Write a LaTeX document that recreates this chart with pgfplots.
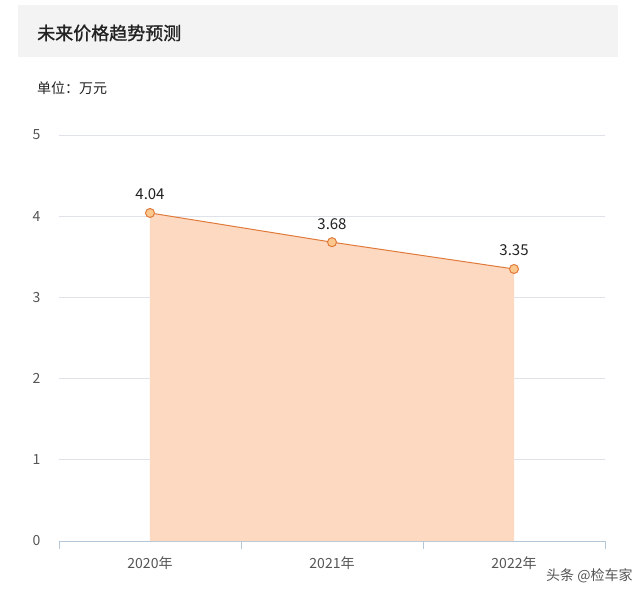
\documentclass[border=0pt]{standalone}
\usepackage{fontspec}
\setmainfont{Noto Sans CJK SC}
\newfontfamily\titlefont[FakeBold=1.2]{Noto Sans CJK SC}
\usepackage{pgfplots}
\pgfplotsset{compat=1.18}

\definecolor{titlebg}{HTML}{F3F3F4}
\definecolor{titletext}{HTML}{222222}
\definecolor{labeltext}{HTML}{555555}
\definecolor{gridgray}{HTML}{DFE2E8}
\definecolor{axisblue}{HTML}{B4C6D8}
\definecolor{peach}{HTML}{FDD9C1}
\definecolor{lineorange}{HTML}{E07A3A}
\definecolor{markfill}{HTML}{FCC88E}

\begin{document}
\begin{tikzpicture}[x=1pt,y=1pt]
  % axis origin sits at (0,0); page is (-59,-49) to (581,541)
  \fill[white] (-59,-49) rectangle (581,541);
  \fill[titlebg] (-41,484) rectangle (559,536);
  \node[anchor=west, inner sep=0pt, text=titletext,
        font=\titlefont\fontsize{18}{20}\selectfont] at (-22,508) {未来价格趋势预测};
  \node[anchor=west, inner sep=0pt, text=titletext,
        font=\fontsize{14}{16}\selectfont] at (-22,453) {单位：万元};

  \begin{axis}[
      scale only axis,
      width=546pt, height=406pt,
      xmin=-0.5, xmax=2.5,
      ymin=0, ymax=5,
      ytick={0,1,2,3,4,5},
      xtick={0,1,2},
      xticklabels={2020年,2021年,2022年},
      axis x line*=bottom,
      axis y line*=left,
      x axis line style={draw=axisblue, line width=0.8pt},
      y axis line style={draw=none},
      ytick style={draw=none},
      xtick style={draw=axisblue, line width=0.8pt},
      major tick length=0pt,
      ymajorgrids,
      major grid style={draw=gridgray, line width=0.8pt},
      extra x ticks={-0.5,0.5,1.5,2.5},
      extra x tick labels={},
      extra x tick style={
        tick align=outside,
        major tick length=8pt,
        grid=none,
      },
      /pgf/number format/assume math mode=true,
      tick label style={text=labeltext, font=\fontsize{14}{16}\selectfont},
      yticklabel style={xshift=-15pt},
      xticklabel style={yshift=-12pt},
      clip=false,
    ]
    % area under the line
    \addplot[fill=peach, draw=none] coordinates {
      (0, 4.04)
      (1, 3.68)
      (2, 3.35)
    } \closedcycle;
    % price line with point labels
    \addplot[
      draw=lineorange, line width=1pt,
      mark=*, mark size=4.5pt,
      mark options={fill=markfill, draw=lineorange, line width=1pt},
      nodes near coords,
      point meta=explicit symbolic,
      every node near coord/.append style={
        anchor=south, yshift=9pt, text=titletext,
        font=\fontsize{15}{17}\selectfont,
      },
    ] coordinates {
      (0, 4.04) [4.04]
      (1, 3.68) [3.68]
      (2, 3.35) [3.35]
    };
  \end{axis}

  % watermark
  \node[anchor=west, inner sep=0pt, text=labeltext,
        font=\fontsize{14}{16}\selectfont] at (487,-35) {头条 @检车家};

  \pgfresetboundingbox
  \path[use as bounding box] (-59,-49) rectangle (581,541);
\end{tikzpicture}
\end{document}
